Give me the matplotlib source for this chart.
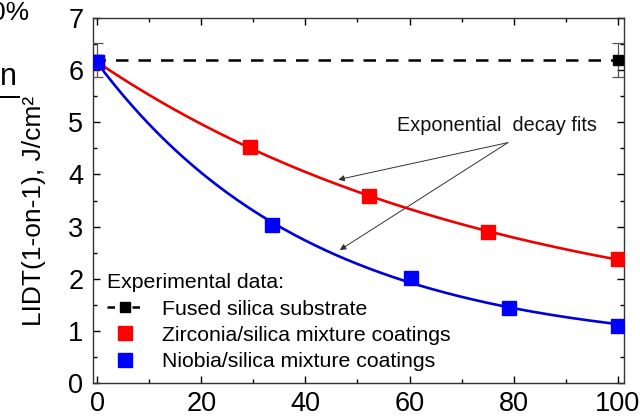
import numpy as np
import matplotlib
matplotlib.use("Agg")
import matplotlib.pyplot as plt
from matplotlib.lines import Line2D
from matplotlib.patches import Rectangle

plt.rcParams['font.family'] = ['Liberation Sans', 'DejaVu Sans']

# ---- data ----
fused_x = [0, 100]
fused_y = [6.2, 6.2]
fused_err = [0.33, 0.33]

zr_x = [0, 29.3, 52.3, 75.1, 100]
zr_y = [6.15, 4.53, 3.58, 2.89, 2.38]

nb_x = [0, 33.5, 60.3, 79.1, 100]
nb_y = [6.15, 3.03, 2.01, 1.44, 1.10]

x_ticks = [0, 20, 40, 60, 80, 100]
y_ticks = [0, 1, 2, 3, 4, 5, 6, 7]

legend_title = "Experimental data:"
labels = ["Fused silica substrate",
          "Zirconia/silica mixture coatings",
          "Niobia/silica mixture coatings"]


def exp_fit(x, y):
    """Least squares fit of y = y0 + A*exp(-x/t) (grid over t)."""
    x = np.asarray(x, float)
    y = np.asarray(y, float)
    best = None
    for t in np.linspace(5, 300, 3000):
        M = np.column_stack([np.ones_like(x), np.exp(-x / t)])
        coef, *_ = np.linalg.lstsq(M, y, rcond=None)
        r = np.sum((M @ coef - y) ** 2)
        if best is None or r < best[0]:
            best = (r, t, coef)
    _, t, (y0, A) = best
    return lambda xx: y0 + A * np.exp(-np.asarray(xx) / t)


fig = plt.figure(figsize=(6.4, 4.19), dpi=100)
ax = fig.add_axes([93 / 640, 1 - 383 / 419, (624 - 93) / 640, (383 - 18) / 419])

red = '#ee0000'
blue = '#0000dd'

# fused silica
ax.plot([-0.8, 101.2], [fused_y[0], fused_y[0]], color='black', lw=1.8,
        dashes=(5, 4), zorder=2)
ax.errorbar(fused_x, fused_y, yerr=fused_err, fmt='s', color='black',
            ms=7, ecolor='#555555', elinewidth=0.9, capsize=4, capthick=0.9,
            zorder=3)

xx = np.linspace(0, 100, 300)
f_zr = exp_fit(zr_x, zr_y)
f_nb = exp_fit(nb_x, nb_y)
ax.plot(xx, f_zr(xx), color=red, lw=1.9, zorder=4)
ax.plot(xx, f_nb(xx), color=blue, lw=1.9, zorder=4)
ax.plot(zr_x, zr_y, 's', color='#ff0000', ms=9.5, zorder=5)
ax.plot(nb_x, nb_y, 's', color='#0000ff', ms=9.5, zorder=6)

# annotation
ax.text(76.8, 4.93, "Exponential  decay fits", fontsize=14.3,
        ha='center', va='center', color='#111111')
for tip in [(46.3, 3.90), (46.6, 2.55)]:
    ax.annotate("", xy=tip, xytext=(78.9, 4.61),
                arrowprops=dict(arrowstyle='-|>', color='#333333', lw=0.7,
                                mutation_scale=9, shrinkA=0, shrinkB=0))

# legend
handles = [
    Line2D([], [], color='black', lw=1.8, dashes=(3, 2), marker='s', ms=6.5),
    Line2D([], [], ls='none', marker='s', color='#ff0000', ms=9.5),
    Line2D([], [], ls='none', marker='s', color='#0000ff', ms=9.5),
]
leg = ax.legend(handles, labels, title=legend_title, loc='lower left',
                bbox_to_anchor=(14 / 531, 12 / 365), frameon=False,
                fontsize=15.3, title_fontsize=15.3, handlelength=1.7,
                handletextpad=0.9, labelspacing=0.34, borderaxespad=0.0,
                borderpad=0.0, alignment='left', numpoints=1)

ax.set_xlim(-0.8, 101.2)
ax.set_ylim(0, 7)
ax.set_xticks(x_ticks)
ax.set_yticks(y_ticks)
ax.set_xticks(np.arange(10, 100, 20), minor=True)
ax.set_yticks(np.arange(0.5, 7, 1), minor=True)
ax.tick_params(which='both', direction='in', top=True, right=True,
               labelsize=19.5, width=1)
ax.tick_params(which='major', length=5)
ax.tick_params(axis='x', which='major', pad=6)
ax.tick_params(axis='y', which='major', pad=7)
ax.tick_params(which='minor', length=3)
for s in ax.spines.values():
    s.set_linewidth(1)
    s.set_color('#333333')

ax.set_ylabel("LIDT(1-on-1), J/cm²", fontsize=19)
ax.yaxis.set_label_coords(-0.088, 0.472)

# cropped remnants of neighbouring text at the top-left corner
fig.text(-0.014, 1 - 13 / 419, "0%", fontsize=19, ha='left', va='center')
fig.text(0.0, 1 - 77 / 419, "n", fontsize=22, ha='left', va='center')
fig.add_artist(Rectangle((0.0, 1 - 98 / 419), 20 / 640, 2 / 419,
                         transform=fig.transFigure, facecolor='black',
                         edgecolor='none', zorder=10))

fig.savefig("out.png", dpi=100)
